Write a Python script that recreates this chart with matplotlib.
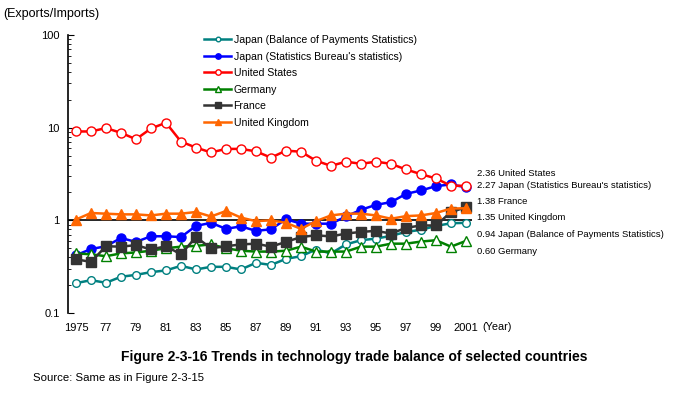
import matplotlib
matplotlib.use("Agg")
import matplotlib.pyplot as plt
from matplotlib.ticker import FixedLocator, LogLocator, NullFormatter

plt.rcParams['font.family'] = ['Liberation Sans', 'DejaVu Sans']

years = list(range(1975, 2002))

japan_bop = [0.21, 0.226, 0.212, 0.246, 0.258, 0.276, 0.288, 0.323, 0.295, 0.315,
             0.315, 0.295, 0.348, 0.33, 0.384, 0.41, 0.484, 0.44, 0.55, 0.61,
             0.635, 0.68, 0.75, 0.79, 0.87, 0.93, 0.94]
japan_stat = [0.42, 0.49, 0.525, 0.645, 0.585, 0.673, 0.673, 0.66, 0.87, 0.94,
              0.81, 0.86, 0.77, 0.80, 1.03, 0.92, 0.92, 0.92, 1.1, 1.3,
              1.47, 1.57, 1.93, 2.1, 2.34, 2.44, 2.27]
united_states = [9.1, 9.1, 9.9, 8.8, 7.5, 9.8, 11.3, 7.07, 6.1, 5.4,
                 5.9, 5.9, 5.55, 4.75, 5.65, 5.5, 4.4, 3.87, 4.3, 4.07,
                 4.3, 4.07, 3.54, 3.15, 2.83, 2.36, 2.36]
germany = [0.44, 0.43, 0.41, 0.44, 0.45, 0.47, 0.50, 0.52, 0.53, 0.55,
           0.50, 0.47, 0.46, 0.46, 0.47, 0.52, 0.46, 0.46, 0.46, 0.52,
           0.52, 0.56, 0.56, 0.59, 0.61, 0.52, 0.60]
france = [0.38, 0.356, 0.525, 0.52, 0.54, 0.485, 0.525, 0.43, 0.66, 0.50,
          0.525, 0.55, 0.56, 0.52, 0.585, 0.66, 0.69, 0.67, 0.72, 0.75,
          0.77, 0.72, 0.83, 0.88, 0.88, 1.23, 1.38]
united_kingdom = [1.02, 1.2, 1.18, 1.16, 1.16, 1.13, 1.18, 1.18, 1.23, 1.10,
                  1.26, 1.07, 0.98, 1.0, 0.94, 0.81, 0.98, 1.13, 1.18, 1.18,
                  1.13, 1.04, 1.11, 1.13, 1.2, 1.34, 1.35]

series_names = ["Japan (Balance of Payments Statistics)",
                "Japan (Statistics Bureau's statistics)",
                "United States", "Germany", "France", "United Kingdom"]

end_labels = ["2.36 United States",
              "2.27 Japan (Statistics Bureau's statistics)",
              "1.38 France",
              "1.35 United Kingdom",
              "0.94 Japan (Balance of Payments Statistics)",
              "0.60 Germany"]

tick_years = list(range(1975, 2002, 2))
tick_labels = ["1975", "77", "79", "81", "83", "85", "87", "89", "91", "93",
               "95", "97", "99", "2001"]

W, H = 676, 394


def px(x, y):
    """Convert top-left pixel coordinates to figure fraction."""
    return x / W, 1 - y / H


def draw_chart():
    fig = plt.figure(figsize=(W / 100, H / 100), dpi=100)
    left, top = px(68, 35)
    right, bottom = px(472, 313)
    ax = fig.add_axes([left, bottom, right - left, top - bottom])

    styles = [
        dict(color='#008080', marker='o', mfc='white', ms=5.5, mew=1.0),
        dict(color='#0000FF', marker='o', mfc='#0000FF', ms=6.5, mew=1.0),
        dict(color='#FF0000', marker='o', mfc='white', ms=6.5, mew=1.0),
        dict(color='#008000', marker='^', mfc='white', ms=7, mew=1.0),
        dict(color='#333333', marker='s', mfc='#333333', ms=6.5, mew=1.0),
        dict(color='#FF6600', marker='^', mfc='#FF6600', ms=7.5, mew=1.0),
    ]
    data = [japan_bop, japan_stat, united_states, germany, france, united_kingdom]

    ax.axhline(1, color='black', lw=1.2, zorder=1)
    for values, name, st in zip(data, series_names, styles):
        ax.plot(years, values, lw=1.8, label=name, zorder=3, **st)

    ax.set_yscale('log')
    ax.set_ylim(0.1, 100)
    ax.set_xlim(1974.47, 2001.4)
    ax.yaxis.set_major_locator(FixedLocator([0.1, 1, 10, 100]))
    ax.set_yticklabels(["0.1", "1", "10", "100"])
    ax.yaxis.set_minor_locator(LogLocator(base=10, subs=range(2, 10)))
    ax.yaxis.set_minor_formatter(NullFormatter())
    ax.tick_params(axis='y', which='both', direction='in', labelsize=8, pad=6)
    ax.tick_params(axis='y', which='major', length=4)
    ax.tick_params(axis='y', which='minor', length=2.5)

    ax.set_xticks(tick_years)
    ax.set_xticklabels(tick_labels)
    ax.tick_params(axis='x', length=0, labelsize=8, pad=7)

    for side in ['top', 'right', 'bottom']:
        ax.spines[side].set_visible(False)
    ax.spines['left'].set_linewidth(1.2)

    # legend rows sit about 16 px apart in the original
    ax.legend(loc='upper left', bbox_to_anchor=px(204, 35), bbox_transform=fig.transFigure,
              frameon=False, fontsize=7.6, handlelength=2.6, handletextpad=0.2,
              labelspacing=0.62, markerscale=0.6, borderaxespad=0, borderpad=0)

    fig.text(*px(3, 14), "(Exports/Imports)", fontsize=9, va='center', ha='left')
    fig.text(*px(482, 327), "(Year)", fontsize=7.8, va='center', ha='left')

    label_y = [173, 186, 202, 218, 235, 251]
    for text, y in zip(end_labels, label_y):
        fig.text(*px(477, y), text, fontsize=6.8, va='center', ha='left')

    fig.text(*px(354, 357), "Figure 2-3-16 Trends in technology trade balance of selected countries",
             fontsize=10, fontweight='bold', va='center', ha='center')
    fig.text(*px(33, 378), "Source: Same as in Figure 2-3-15", fontsize=8.2, va='center', ha='left')

    fig.savefig("out.png", dpi=100)


if __name__ == "__main__":
    draw_chart()
